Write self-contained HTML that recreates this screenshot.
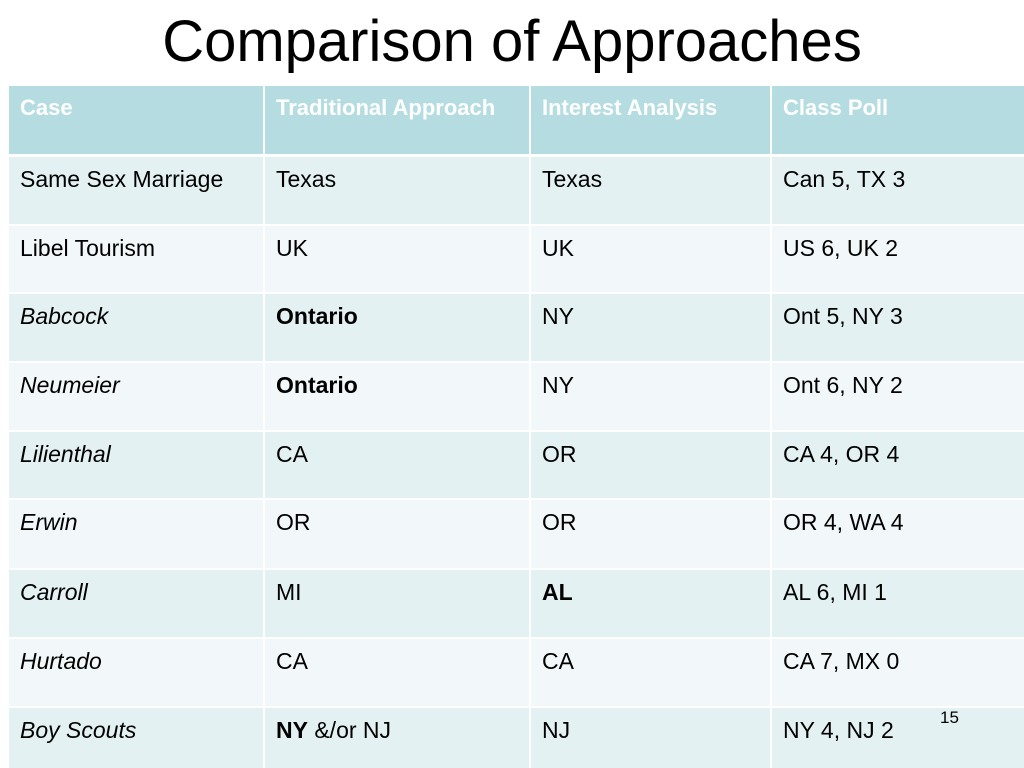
<!DOCTYPE html>
<html><head><meta charset="utf-8"><style>
body{margin:0;width:1024px;height:768px;background:#fff;position:relative;overflow:hidden;font-family:"Liberation Sans",sans-serif}
.t{position:absolute;left:0;width:1024px;top:8px;text-align:center;font-size:58px;line-height:68px;color:#000}
.c{position:absolute;box-sizing:border-box;padding:8px 11px;font-size:23px;line-height:29px;color:#000}
.h{background:#b5dde1;color:#fff;font-weight:bold;font-size:22px;line-height:30px;padding-top:7px}
.r0{background:#e4f1f2}.r1{background:#f2f8f9}
.pg{position:absolute;left:940px;top:708px;font-size:17px}
</style></head><body>
<div class="t">Comparison of Approaches</div>
<div id="tbl"></div>
<div class="pg">15</div>
<script>
const cols=[9,265,531,772,1024];
const tops=[86,157,226,294,363,432,500,570,639,708];
const bots=[154,224,292,361,430,498,568,637,706,768];
const rows=[
["Case","Traditional Approach","Interest Analysis","Class Poll"],
["Same Sex Marriage","Texas","Texas","Can 5, TX 3"],
["Libel Tourism","UK","UK","US 6, UK 2"],
["<i>Babcock</i>","<b>Ontario</b>","NY","Ont 5, NY 3"],
["<i>Neumeier</i>","<b>Ontario</b>","NY","Ont 6, NY 2"],
["<i>Lilienthal</i>","CA","OR","CA 4, OR 4"],
["<i>Erwin</i>","OR","OR","OR 4, WA 4"],
["<i>Carroll</i>","MI","<b>AL</b>","AL 6, MI 1"],
["<i>Hurtado</i>","CA","CA","CA 7, MX 0"],
["<i>Boy Scouts</i>","<b>NY</b> &amp;/or NJ","NJ","NY 4, NJ 2"]];
const tbl=document.getElementById('tbl');
rows.forEach((r,i)=>{r.forEach((txt,j)=>{
const d=document.createElement('div');
d.className='c '+(i==0?'h':(i%2?'r0':'r1'));
d.style.left=cols[j]+'px';d.style.top=tops[i]+'px';
d.style.width=(cols[j+1]-cols[j]-(j<3?2:0))+'px';d.style.height=(bots[i]-tops[i])+'px';
d.innerHTML=txt;


tbl.appendChild(d);});});
</script>
</body></html>
